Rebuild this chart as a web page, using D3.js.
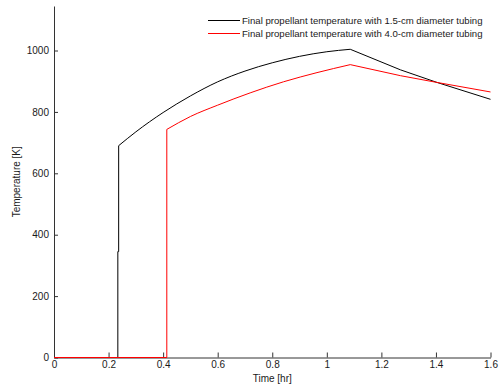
<!DOCTYPE html>
<html>
<head>
<meta charset="utf-8">
<script src="https://cdn.jsdelivr.net/npm/d3@7"></script>
<style>
  body { margin: 0; background: #fff; }
  svg text { font-family: Arial, "Liberation Sans", sans-serif; font-size: 10px; fill: #1a1a1a; }
</style>
</head>
<body>
<div id="chart"></div>
<script>
var w = 499;
var h = 387;

// 1.5-cm tubing (black)
var smallTime = [0, 0.234, 0.234, 0.237, 0.237, 0.3, 0.4, 0.5, 0.6, 0.7, 0.8, 0.9, 1.0, 1.086, 1.27, 1.404, 1.6];
var smallTemp = [0, 0, 345, 345, 690, 735, 798, 852, 898, 933, 960, 981, 996, 1004, 937, 896, 841];

// 4.0-cm tubing (red)
var largeTime = [0, 0.4135, 0.4135, 0.5, 0.6, 0.719, 0.841, 0.964, 1.086, 1.27, 1.404, 1.6];
var largeTemp = [0, 0, 743, 785, 822, 862, 898, 928, 954, 918, 896, 865];

var xTicks = [0, 0.2, 0.4, 0.6, 0.8, 1, 1.2, 1.4, 1.6];
var yTicks = [0, 200, 400, 600, 800, 1000];

var seriesNames = ["Final propellant temperature with 1.5-cm diameter tubing",
                   "Final propellant temperature with 4.0-cm diameter tubing"];
var seriesColors = ["#000000", "#ff0000"];

var plotLeft = 54, plotRight = 490.5, plotTop = 6, plotBottom = 357.5;

var svg = d3.select("#chart").append("svg")
            .attr("width", w)
            .attr("height", h);

var x = d3.scaleLinear().domain([0, 1.6]).range([plotLeft, plotRight]);
var y = d3.scaleLinear().domain([0, 1145]).range([plotBottom, plotTop]);

svg.append("g")
   .attr("transform", "translate(0," + plotBottom + ")")
   .call(d3.axisBottom(x).tickValues(xTicks).tickSizeInner(-5).tickSizeOuter(0).tickPadding(3)
         .tickFormat(function(d) { return String(d); }));

svg.append("g")
   .attr("transform", "translate(" + plotLeft + ",0)")
   .call(d3.axisLeft(y).tickValues(yTicks).tickSizeInner(-4).tickSizeOuter(0).tickPadding(5)
         .tickFormat(function(d) { return String(d); }));

svg.selectAll(".domain").attr("stroke", "#333");
svg.selectAll(".tick line").attr("stroke", "#333");
svg.selectAll(".tick text").attr("fill", "#1a1a1a").style("font-size", "10px")
   .style("font-family", "Arial, 'Liberation Sans', sans-serif");

// the rising part is smooth, the jumps and the falling part are straight
function curved(d) { return d[0] > 0.236 && d[0] <= 1.086; }

var line = d3.line()
             .x(function(d) { return x(d[0]); })
             .y(function(d) { return y(d[1]); });

var smooth = d3.line()
               .curve(d3.curveMonotoneX)
               .x(function(d) { return x(d[0]); })
               .y(function(d) { return y(d[1]); });

function seriesPath(data, splitAt) {
  var before = data.filter(function(d, i) { return i <= splitAt; });
  var rising = data.filter(function(d, i) { return i >= splitAt && d[0] <= 1.086; });
  var after = data.filter(function(d) { return d[0] >= 1.086; });
  return line(before) + smooth(rising) + line(after);
}

var smallData = smallTime.map(function(t, i) { return [t, smallTemp[i]]; });
var largeData = largeTime.map(function(t, i) { return [t, largeTemp[i]]; });

svg.append("path")
   .attr("d", seriesPath(smallData, 4))
   .attr("fill", "none")
   .attr("stroke", seriesColors[0])
   .attr("stroke-width", 1);

svg.append("path")
   .attr("d", seriesPath(largeData, 2))
   .attr("fill", "none")
   .attr("stroke", seriesColors[1])
   .attr("stroke-width", 1);

// legend
var legend = svg.selectAll("g.legend")
                .data(seriesNames)
                .enter()
                .append("g")
                .attr("class", "legend")
                .attr("transform", function(d, i) { return "translate(208," + (20.5 + i * 13) + ")"; });

legend.append("line")
      .attr("x1", 0)
      .attr("x2", 32)
      .attr("stroke", function(d, i) { return seriesColors[i]; })
      .attr("stroke-width", 1);

legend.append("text")
      .attr("x", 34)
      .attr("dy", "0.35em")
      .style("font-size", "9.6px")
      .text(function(d) { return d; });

// axis labels
svg.append("text")
   .attr("x", (plotLeft + plotRight) / 2)
   .attr("y", 382)
   .attr("text-anchor", "middle")
   .text("Time [hr]");

svg.append("text")
   .attr("transform", "translate(20," + ((plotTop + plotBottom) / 2) + ") rotate(-90)")
   .attr("text-anchor", "middle")
   .text("Temperature [K]");
</script>
</body>
</html>
